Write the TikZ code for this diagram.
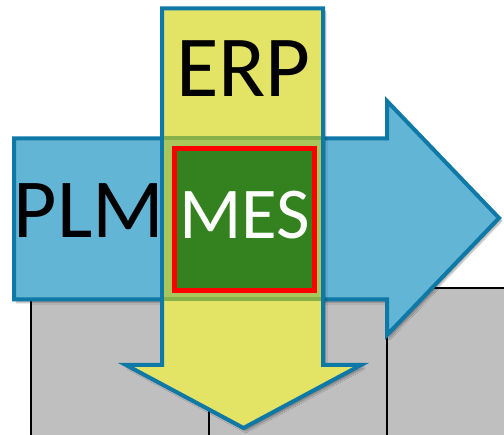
\documentclass[tikz,border=0pt]{standalone}
\usepackage{fontspec}
\newfontfamily\calibri{Carlito}
\usetikzlibrary{positioning, shadows.blur}

\definecolor{plmblue}{RGB}{99,181,214}
\definecolor{edgeblue}{RGB}{14,121,166}
\definecolor{erpyellow}{RGB}{227,227,102}
\definecolor{mixgreen}{RGB}{168,198,92}
\definecolor{mixedge}{RGB}{134,176,74}
\definecolor{mesgreen}{RGB}{52,130,31}
\definecolor{cellgray}{RGB}{191,191,191}

\begin{document}
\begin{tikzpicture}[
    x=1pt, y=-1pt,
    % Styles
    tablefill/.style={fill=cellgray},
    tableline/.style={black, line width=2pt},
    bigarrow/.style={draw=edgeblue, line width=4pt, line join=miter,
        blur shadow={shadow xshift=2.5pt, shadow yshift=-3pt, shadow blur steps=8, shadow opacity=35}},
    crossfill/.style={fill=mixgreen},
    crossedge/.style={fill=mixedge},
    mesbox/.style={draw=red, line width=5pt, fill=mesgreen, text=white, minimum width=140pt, minimum height=142pt,
        inner sep=0pt, text height=46pt, text depth=8pt, font={\calibri\fontsize{73pt}{73pt}\selectfont}},
    biglabel/.style={inner sep=0pt, anchor=base, font={\calibri\fontsize{#1}{#1}\selectfont}},
]
\clip (0,0) rectangle (504,435);

% Grey table behind the arrows
\fill[tablefill] (30.5,288) rectangle (515,445);
\draw[tableline] (30.5,445) -- (30.5,288) -- (515,288);
\draw[tableline] (208.5,288) -- (208.5,445);
\draw[tableline] (386.5,288) -- (386.5,445);

% PLM arrow (left to right)
\path[bigarrow, fill=plmblue] (14,138.5) -- (387,138.5) -- (387,101) -- (499,218)
    -- (387,335) -- (387,299.5) -- (14,299.5) -- cycle;
\node[biglabel=84pt] (plm) at (89,238) {PLM};

% ERP arrow (top to bottom)
\path[bigarrow, fill=erpyellow] (162,8.5) -- (323,8.5) -- (323,365) -- (361,365) -- (243.5,428)
    -- (126,365) -- (162,365) -- cycle;
\node[biglabel=87pt] (erp) at (243.5,97) {ERP};

% where the two arrows cross
\fill[crossfill] (164,136.5) rectangle (321,301.5);
\fill[crossedge] (164,136.5) rectangle (321,140.5);
\fill[crossedge] (164,297.5) rectangle (321,301.5);

% MES in the middle
\node[mesbox] (mes) at (244.5,220) {MES};

\end{tikzpicture}
\end{document}
